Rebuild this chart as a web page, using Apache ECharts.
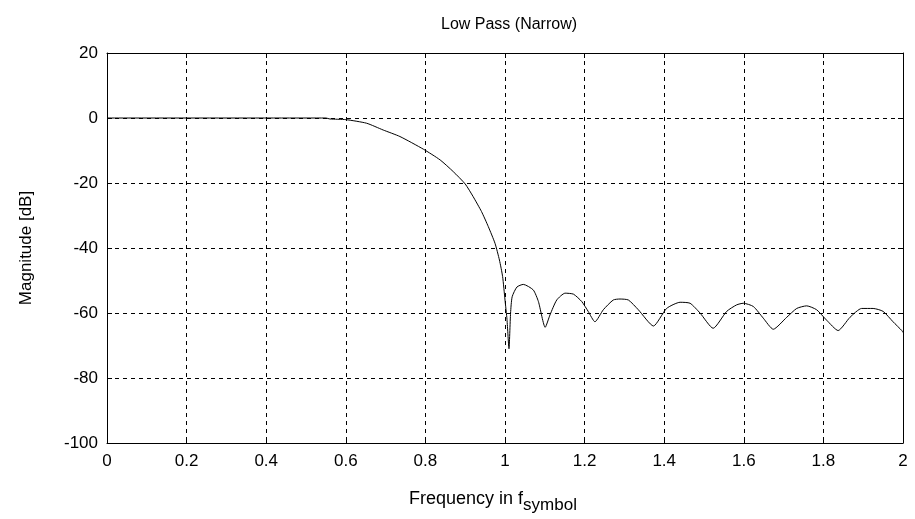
<!DOCTYPE html>
<html>
<head>
<meta charset="utf-8">
<script src="https://cdn.jsdelivr.net/npm/echarts@6/dist/echarts.min.js"></script>
<style>html,body{margin:0;padding:0;background:#fff}#c{width:915px;height:519px}</style>
</head>
<body>
<div id="c"></div>
<script>
// Frequency (in f_symbol) and magnitude (dB)
const freq = [0, 0.55, 0.56, 0.6, 0.652, 0.694, 0.736, 0.795, 0.837, 0.870, 0.9, 0.920, 0.941, 0.958, 0.975, 0.986, 0.994, 1.0, 1.005, 1.010, 1.014, 1.018, 1.03, 1.046,
  1.071, 1.084, 1.101, 1.113, 1.130, 1.151, 1.172, 1.193, 1.209, 1.226, 1.247, 1.272, 1.289, 1.310, 1.335, 1.373,
  1.406, 1.440, 1.465, 1.490, 1.523, 1.557, 1.582, 1.599, 1.624, 1.649, 1.674, 1.708, 1.733, 1.758, 1.783, 1.808, 1.837,
  1.867, 1.896, 1.925, 1.950, 1.975, 1.997, 2.0];
const magnitude = [0, 0, -0.3, -0.5, -1.6, -3.7, -5.7, -9.6, -12.9, -16.5, -20.3, -24.2, -28.8, -33.4, -38.6, -43.7, -48.8, -56, -62, -71, -60, -55, -52, -51.2,
  -52.9, -56.5, -64.4, -60.6, -56, -53.9, -54.2, -56.5, -59.5, -62.7, -59, -56, -55.7, -56, -59, -64,
  -58.6, -56.7, -57, -60, -64.7, -59.5, -57.5, -57, -58, -61.6, -65, -61.3, -58.6, -57.8, -59, -62.2, -65.4,
  -61.3, -58.6, -58.6, -59.5, -62.7, -65.4, -66];
const xTickLabels = ['0', '0.2', '0.4', '0.6', '0.8', '1', '1.2', '1.4', '1.6', '1.8', '2'];
const yTickLabels = ['-100', '-80', '-60', '-40', '-20', '0', '20'];

const chart = echarts.init(document.getElementById('c'), null, {renderer: 'canvas'});
const font = 'Liberation Sans, Arial, sans-serif';
const axisLine = {show: true, onZero: false, lineStyle: {color: '#000', width: 1}};
const tick = {show: true, inside: true, length: 5, lineStyle: {color: '#000'}};
const split = {show: true, lineStyle: {color: '#000', type: [4, 4], width: 1}};
const data = freq.map((f, i) => [f, magnitude[i]]);

chart.setOption({
  animation: false,
  backgroundColor: '#fff',
  title: {
    text: 'Low Pass (Narrow)', left: 504, top: 12, textAlign: 'center',
    textStyle: {fontFamily: font, fontSize: 16, fontWeight: 'normal', color: '#000'}
  },
  grid: {left: 107, top: 53, right: 12, bottom: 76, containLabel: false},
  xAxis: [{
    type: 'value', min: 0, max: 2, interval: 0.2, position: 'bottom',
    axisLine, axisTick: tick, splitLine: split,
    axisLabel: {color: '#000', fontFamily: font, fontSize: 17, margin: 10,
      formatter: (v) => xTickLabels[Math.round(v / 0.2)]},
    name: 'Frequency in f{sub|symbol}', nameLocation: 'middle', nameGap: 42,
    nameTextStyle: {color: '#000', fontFamily: font, fontSize: 18, padding: [0, 24, 0, 0],
      rich: {sub: {fontFamily: font, fontSize: 17, color: '#000', verticalAlign: 'bottom', padding: [12, 0, 0, 0]}}}
  }, {
    type: 'value', min: 0, max: 2, interval: 0.2, position: 'top',
    axisLine, axisTick: tick, splitLine: {show: false}, axisLabel: {show: false}
  }],
  yAxis: [{
    type: 'value', min: -100, max: 20, interval: 20, position: 'left',
    axisLine, axisTick: tick, splitLine: split,
    axisLabel: {color: '#000', fontFamily: font, fontSize: 17, margin: 9,
      formatter: (v) => yTickLabels[Math.round((v + 100) / 20)]},
    name: 'Magnitude [dB]', nameLocation: 'middle', nameGap: 72, nameRotate: 90,
    nameTextStyle: {color: '#000', fontFamily: font, fontSize: 17}
  }, {
    type: 'value', min: -100, max: 20, interval: 20, position: 'right',
    axisLine, axisTick: tick, splitLine: {show: false}, axisLabel: {show: false}
  }],
  series: [{
    type: 'line', data, showSymbol: false, symbol: 'none', smooth: 0.2,
    lineStyle: {color: '#000', width: 1}, xAxisIndex: 0, yAxisIndex: 0, z: 5
  }]
});
</script>
</body>
</html>
